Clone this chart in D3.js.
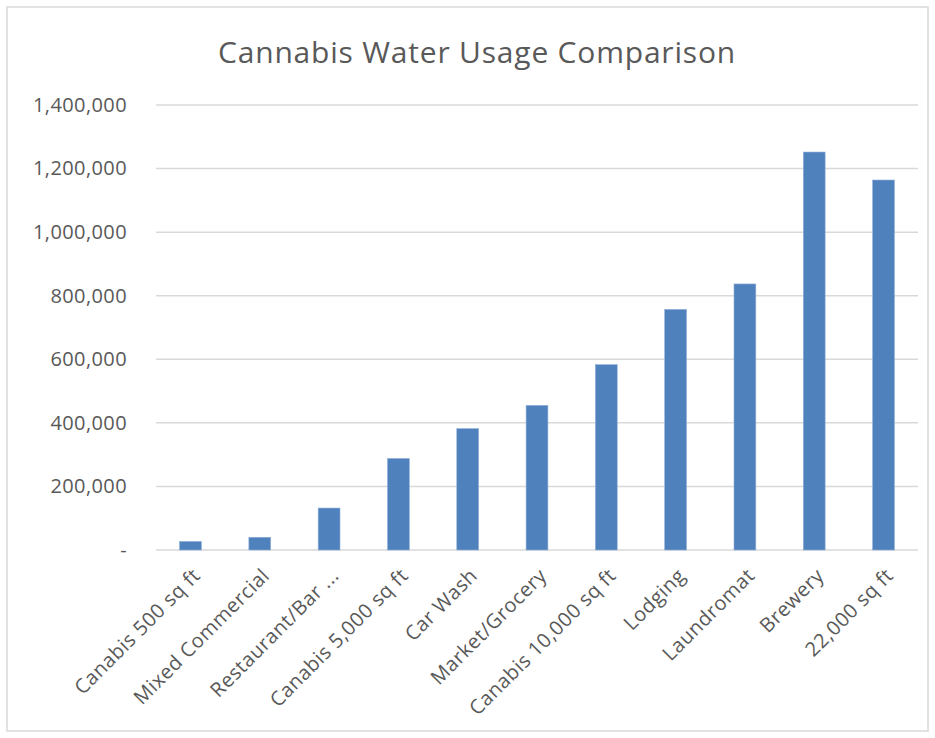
<!DOCTYPE html>
<html lang="en">
<head>
  <meta charset="UTF-8" />
  <title>Cannabis Water Usage Comparison</title>
  <script src="https://d3js.org/d3.v7.min.js"></script>
  <style>
    body { margin: 0; background: #fff; }
    text { font-family: "Open Sans", Arial, sans-serif; fill: #595959; }
  </style>
</head>
<body>
  <svg width="935" height="738"></svg>
  <script>
    const categories = ["Canabis 500 sq ft", "Mixed Commercial", "Restaurant/Bar ...", "Canabis 5,000 sq ft",
      "Car Wash", "Market/Grocery", "Canabis 10,000 sq ft", "Lodging", "Laundromat", "Brewery", "22,000 sq ft"];
    const values = [27000, 40000, 132000, 288000, 382000, 455000, 583000, 757000, 837000, 1252000, 1164000];
    const yTicks = [0, 200000, 400000, 600000, 800000, 1000000, 1200000, 1400000];

    const svg = d3.select("svg");
    const margin = { top: 105, right: 17, bottom: 188, left: 156 };
    const width = 935 - margin.left - margin.right;
    const height = 738 - margin.top - margin.bottom;

    // chart border
    svg.append("rect")
      .attr("x", 7).attr("y", 7).attr("width", 921).attr("height", 724)
      .attr("fill", "none").attr("stroke", "#d9d9d9").attr("stroke-width", 1.5);

    svg.append("text")
      .attr("x", 477).attr("y", 63)
      .attr("text-anchor", "middle")
      .style("font-size", "30px")
      .style("letter-spacing", "0.8px")
      .text("Cannabis Water Usage Comparison");

    const chart = svg.append("g")
      .attr("transform", `translate(${margin.left},${margin.top})`);

    const x = d3.scaleBand().domain(categories).range([0, width]).paddingInner(0.685).paddingOuter(0.34);
    const y = d3.scaleLinear().domain([0, 1400000]).range([height, 0]);

    // gridlines
    chart.append("g")
      .selectAll("line")
      .data(yTicks)
      .enter()
      .append("line")
      .attr("x1", 0).attr("x2", width)
      .attr("y1", d => y(d)).attr("y2", d => y(d))
      .attr("stroke", "#d9d9d9").attr("stroke-width", 1.5);

    // y-axis labels
    const yAxis = d3.axisLeft(y)
      .tickValues(yTicks)
      .tickSize(0)
      .tickPadding(29)
      .tickFormat(d => d === 0 ? "-" : d3.format(",")(d));
    chart.append("g")
      .call(yAxis)
      .call(g => g.select(".domain").remove())
      .selectAll("text")
      .style("font-size", "20px")
      .style("letter-spacing", "0.4px")
      .style("font-family", "\"Open Sans\", Arial, sans-serif")
      .attr("fill", "#595959");

    // bars
    chart.selectAll(".bar")
      .data(values)
      .enter()
      .append("rect")
      .attr("class", "bar")
      .attr("x", (d, i) => x(categories[i]))
      .attr("y", d => y(d))
      .attr("width", x.bandwidth())
      .attr("height", d => height - y(d))
      .attr("fill", "#4f81bd")
      .attr("stroke", "#8fb0d8")
      .attr("stroke-width", 0.6);

    // x-axis labels
    const xAxis = d3.axisBottom(x).tickSize(0).tickPadding(0);
    chart.append("g")
      .attr("transform", `translate(0,${height})`)
      .call(xAxis)
      .call(g => g.select(".domain").remove())
      .selectAll("text")
      .style("font-size", "20px")
      .style("letter-spacing", "0.5px")
      .style("font-family", "\"Open Sans\", Arial, sans-serif")
      .attr("fill", "#595959")
      .attr("text-anchor", "end")
      .attr("dy", "0.35em")
      .attr("transform", "translate(6,22) rotate(-45)");
  </script>
</body>
</html>
